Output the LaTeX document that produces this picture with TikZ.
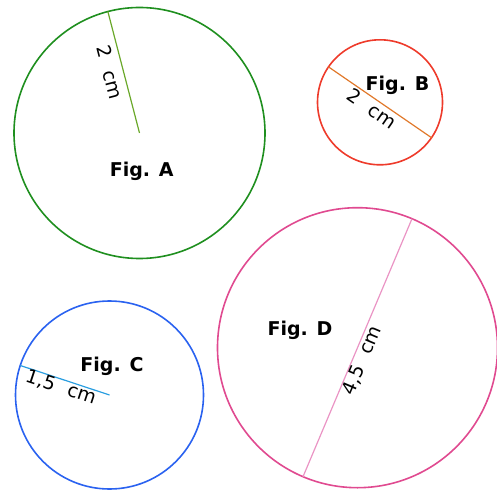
\documentclass[tikz,border=0pt]{standalone}
\usepackage{fontspec}
\setmainfont{DejaVu Sans}
\usetikzlibrary{calc}
\definecolor{cA}{HTML}{1F8F1F}
\definecolor{lA}{HTML}{6AA82A}
\definecolor{cB}{HTML}{EE3B2B}
\definecolor{lB}{HTML}{E0782A}
\definecolor{cC}{HTML}{2A62F0}
\definecolor{lC}{HTML}{2A9EE0}
\definecolor{cD}{HTML}{E04A90}
\definecolor{lD}{HTML}{EA94C4}
\tikzset{
  ring/.style={line width=1.6pt},
  measure/.style={line width=1.2pt},
  figlabel/.style={inner sep=0pt, anchor=base, font=\fontsize{19}{23}\selectfont\bfseries},
  mlabel/.style={inner sep=0pt, text height=0.6em, text depth=0pt, anchor=center, font=\fontsize{19}{23}\selectfont}
}
\newcommand{\wsp}{\hspace{0.72em}}
\begin{document}
\begin{tikzpicture}[x=1pt,y=1pt]
\useasboundingbox (0,0) rectangle (497,490);
% Fig. A
\coordinate (A) at (139.5,357);
\coordinate (Ae) at ($(A)+(104.6:125.5)$);
\draw[ring,cA] (A) circle[radius=125.5];
\draw[measure,lA] (Ae) -- (A);
\node[mlabel,rotate=-75.4] (Am) at (106,417) {2\wsp cm};
\node[figlabel] (At) at (141.7,313.9) {Fig. A};
% Fig. B
\coordinate (B) at (380,387.7);
\coordinate (B1) at ($(B)+(145.5:62.5)$);
\coordinate (B2) at ($(B)+(-34.5:62.5)$);
\draw[ring,cB] (B) circle[radius=62.5];
\draw[measure,lB] (B1) -- (B2);
\node[mlabel,rotate=-34.5] (Bm) at (370,378.3) {2\wsp cm};
\node[figlabel] (Bt) at (397.5,399.9) {Fig. B};
% Fig. C
\coordinate (C) at (109.5,95);
\coordinate (Ce) at ($(C)+(161.7:94)$);
\draw[ring,cC] (C) circle[radius=94];
\draw[measure,lC] (Ce) -- (C);
\node[mlabel,rotate=-18.3] (Cm) at (60,100) {1,5\wsp cm};
\node[figlabel] (Ct) at (112,118.9) {Fig. C};
% Fig. D
\coordinate (D) at (357.5,142.3);
\coordinate (D1) at ($(D)+(247.1:140)$);
\coordinate (D2) at ($(D)+(67.1:140)$);
\draw[ring,cD] (D) circle[radius=140];
\draw[measure,lD] (D1) -- (D2);
\node[mlabel,rotate=67.1] (Dm) at (365,128.3) {4,5\wsp cm};
\node[figlabel] (Dt) at (300,154.9) {Fig. D};
\end{tikzpicture}
\end{document}
